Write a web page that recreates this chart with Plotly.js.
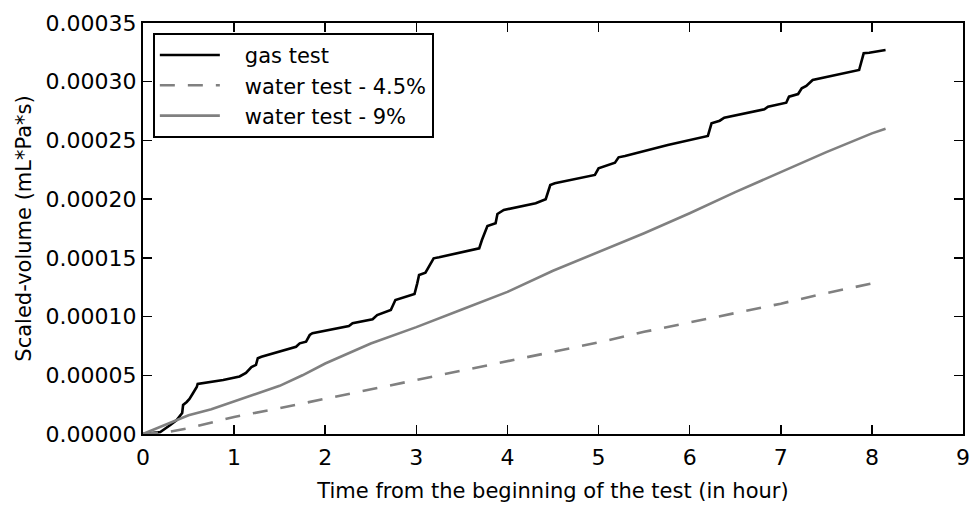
<!DOCTYPE html>
<html>
<head>
<meta charset="utf-8">
<script src="https://cdn.plot.ly/plotly-3.0.1.min.js"></script>
<style>html,body{margin:0;padding:0;background:#fff;}#chart{width:971px;height:506px;}</style>
</head>
<body>
<div id="chart"></div>
<script>
// Gas test (hours, scaled volume)
var gasX = [0, 0.19, 0.30, 0.37, 0.43, 0.44, 0.48, 0.51, 0.55, 0.59, 0.60, 0.88, 1.06, 1.13, 1.19, 1.24, 1.26, 1.30, 1.68, 1.72, 1.79, 1.83, 1.86, 2.26, 2.30, 2.52, 2.57, 2.72, 2.77, 2.98, 3.01, 3.03, 3.10, 3.16, 3.19, 3.25, 3.69, 3.72, 3.78, 3.87, 3.89, 3.96, 4.31, 4.42, 4.45, 4.47, 4.52, 4.96, 5.00, 5.18, 5.22, 5.29, 5.76, 6.20, 6.24, 6.33, 6.38, 6.82, 6.86, 7.06, 7.09, 7.19, 7.23, 7.28, 7.35, 7.86, 7.91, 7.97, 8.15];
var gasY = [0, 0.17e-5, 0.77e-5, 1.19e-5, 1.79e-5, 2.47e-5, 2.73e-5, 2.98e-5, 3.49e-5, 4.0e-5, 4.26e-5, 4.6e-5, 4.9e-5, 5.2e-5, 5.7e-5, 5.88e-5, 6.45e-5, 6.58e-5, 7.43e-5, 7.72e-5, 7.86e-5, 8.43e-5, 8.58e-5, 9.2e-5, 9.43e-5, 9.77e-5, 10.13e-5, 10.56e-5, 11.41e-5, 11.92e-5, 12.83e-5, 13.54e-5, 13.74e-5, 14.54e-5, 14.96e-5, 15.05e-5, 15.81e-5, 16.52e-5, 17.71e-5, 17.94e-5, 18.74e-5, 19.08e-5, 19.65e-5, 19.99e-5, 20.78e-5, 21.2e-5, 21.35e-5, 22.06e-5, 22.63e-5, 23.1e-5, 23.56e-5, 23.67e-5, 24.61e-5, 25.38e-5, 26.46e-5, 26.68e-5, 26.94e-5, 27.65e-5, 27.87e-5, 28.21e-5, 28.73e-5, 28.95e-5, 29.44e-5, 29.64e-5, 30.15e-5, 31.0e-5, 32.42e-5, 32.47e-5, 32.7e-5];

// Water test 4.5%
var water45X = [0, 0.3, 0.5, 0.75, 1, 1.5, 2, 2.5, 3, 3.5, 4, 4.5, 5, 5.5, 6, 6.5, 7, 7.5, 8.05];
var water45Y = [0, 0.2e-5, 0.5e-5, 0.95e-5, 1.45e-5, 2.2e-5, 3.0e-5, 3.8e-5, 4.6e-5, 5.4e-5, 6.2e-5, 7.0e-5, 7.8e-5, 8.7e-5, 9.5e-5, 10.3e-5, 11.1e-5, 12.0e-5, 12.9e-5];

// Water test 9%
var water9X = [0, 0.25, 0.5, 0.75, 1, 1.25, 1.5, 1.75, 2, 2.5, 3, 3.5, 4, 4.5, 5, 5.5, 6, 6.5, 7, 7.5, 8, 8.15];
var water9Y = [0, 0.8e-5, 1.6e-5, 2.1e-5, 2.75e-5, 3.45e-5, 4.1e-5, 5.0e-5, 6.0e-5, 7.7e-5, 9.1e-5, 10.6e-5, 12.1e-5, 13.9e-5, 15.5e-5, 17.1e-5, 18.8e-5, 20.6e-5, 22.3e-5, 24.0e-5, 25.6e-5, 26.0e-5];

var seriesNames = ['gas test', 'water test - 4.5%', 'water test - 9%'];
var xTickVals = [0, 1, 2, 3, 4, 5, 6, 7, 8, 9];
var yTickVals = [0, 0.00005, 0.0001, 0.00015, 0.0002, 0.00025, 0.0003, 0.00035];

var FONT = 'DejaVu Sans, sans-serif';
var PAD = '\u00a0\u00a0\u00a0';

var traces = [
  {x: gasX, y: gasY, name: PAD + seriesNames[0], mode: 'lines',
   line: {color: '#000000', width: 2.6}},
  {x: water45X, y: water45Y, name: PAD + seriesNames[1], mode: 'lines',
   line: {color: '#808080', width: 2.6, dash: '15px,13px'}},
  {x: water9X, y: water9Y, name: PAD + seriesNames[2], mode: 'lines',
   line: {color: '#808080', width: 2.6}}
];

var axisCommon = {
  showline: true, linecolor: '#000', linewidth: 2, mirror: 'ticks',
  ticks: 'inside', ticklen: 9, tickwidth: 1.5, tickcolor: '#000',
  showgrid: false, zeroline: false, ticklabeloverflow: 'allow',
  tickfont: {family: FONT, size: 22, color: '#000'}
};

var layout = {
  width: 971, height: 506,
  margin: {l: 143, r: 8, t: 23, b: 72},
  paper_bgcolor: '#fff', plot_bgcolor: '#fff',
  font: {family: FONT, size: 21, color: '#000'},
  showlegend: true,
  legend: {
    x: 0.012, y: 0.976, xanchor: 'left', yanchor: 'top',
    bordercolor: '#000', borderwidth: 2, bgcolor: '#fff',
    font: {family: FONT, size: 21, color: '#000'},
    itemwidth: 60
  },
  xaxis: Object.assign({}, axisCommon, {
    range: [0, 9], tickvals: xTickVals, ticktext: xTickVals.map(String),
    ticklabelstandoff: 3,
    title: {text: 'Time from the beginning of the test (in hour)', font: {family: FONT, size: 21, color: '#000'}, standoff: 14}
  }),
  yaxis: Object.assign({}, axisCommon, {
    range: [0, 0.00035], tickvals: yTickVals, tickformat: '.5f',
    title: {text: 'Scaled-volume (mL*Pa*s)', font: {family: FONT, size: 21, color: '#000'}, standoff: 8}
  })
};

Plotly.newPlot('chart', traces, layout, {displayModeBar: false, staticPlot: true});
</script>
</body>
</html>
